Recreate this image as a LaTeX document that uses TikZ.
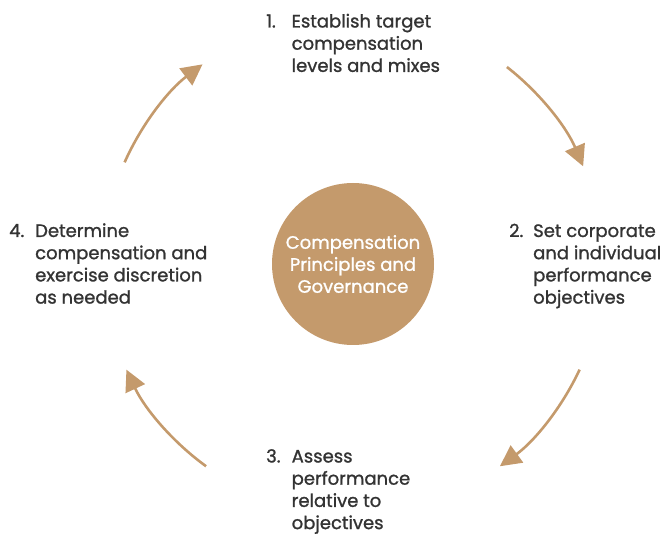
\documentclass[tikz,border=0pt]{standalone}
\usepackage{fontspec}
\setmainfont{Poppins}[FakeBold=1.2]
\usetikzlibrary{arrows.meta}
\definecolor{tan}{HTML}{C49A6C}
\definecolor{txt}{HTML}{333333}
\tikzset{
  arr/.style={draw=tan, line width=2.6pt, -{Triangle[length=21pt,width=21pt]}},
  lbl/.style={inner sep=0pt, text=txt, font=\fontsize{18}{22.2}\selectfont, anchor=base west},
  hub/.style={circle, fill=tan, minimum size=162pt, inner sep=0pt, text=white, align=center,
    font=\fontsize{18}{22}\selectfont}
}
\newcommand{\lines}[1]{\begin{tabular}[t]{@{}l@{}}#1\end{tabular}}
\begin{document}
\begin{tikzpicture}[x=1pt,y=1pt]
\useasboundingbox (0,0) rectangle (667,-534);
\coordinate (c) at (353,-264);
\node[hub] (hub) at (c) {Compensation\\Principles and\\Governance};
% labels
\node[lbl] (n1) at (266,-27.5) {1.};
\node[lbl] (t1) at (291.5,-27.5) {\lines{Establish target\\compensation\\levels and mixes}};
\node[lbl] (n2) at (509,-237) {2.};
\node[lbl] (t2) at (533,-237) {\lines{Set corporate\\and individual\\performance\\objectives}};
\node[lbl] (n3) at (266,-462.5) {3.};
\node[lbl] (t3) at (291.5,-462.5) {\lines{Assess\\performance\\relative to\\objectives}};
\node[lbl] (n4) at (9,-237) {4.};
\node[lbl] (t4) at (35,-237) {\lines{Determine\\compensation and\\exercise discretion\\as needed}};
% arrows
\draw[arr] (c) ++(52:250) coordinate (a1s) arc[start angle=52, end angle=23, radius=250] coordinate (a1e);
\draw[arr] (c) ++(-25:250) coordinate (a2s) arc[start angle=-25, end angle=-54, radius=250] coordinate (a2e);
\draw[arr] (c) ++(-126:250) coordinate (a3s) arc[start angle=-126, end angle=-155, radius=250] coordinate (a3e);
\draw[arr] (c) ++(156:250) coordinate (a4s) arc[start angle=156, end angle=127, radius=250] coordinate (a4e);
\end{tikzpicture}
\end{document}
